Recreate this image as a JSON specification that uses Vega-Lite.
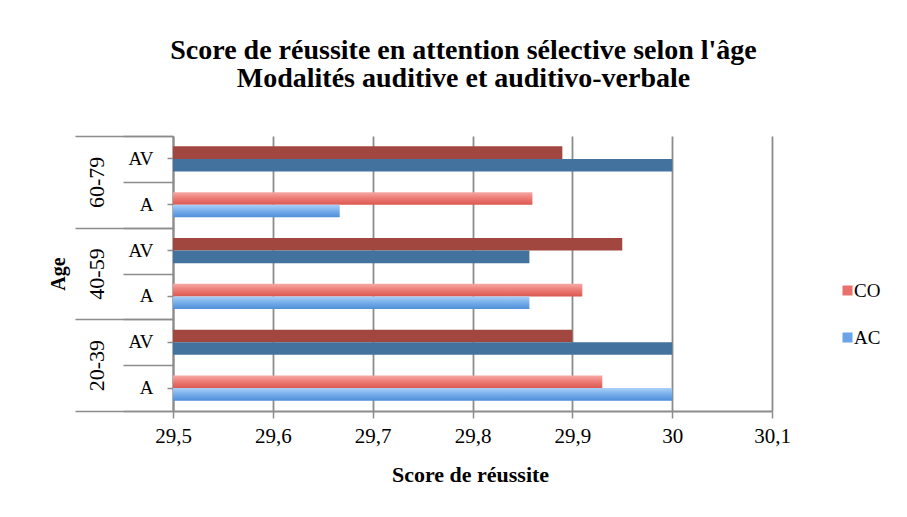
{
  "$schema": "https://vega.github.io/schema/vega-lite/v6.json",
  "width": 599,
  "height": 275,
  "autosize": {"type": "none"},
  "padding": {"left": 173, "top": 136, "right": 135, "bottom": 106},
  "background": "white",
  "title": {
    "text": ["Score de réussite en attention sélective selon l'âge", "Modalités auditive et auditivo-verbale"],
    "font": "Liberation Serif",
    "fontSize": 28,
    "fontWeight": "bold",
    "lineHeight": 28,
    "color": "#000000",
    "anchor": "middle",
    "dx": -9,
    "offset": 42
  },
  "data": {
    "values": [
      {"age": "60-79", "mod": "AV", "key": "60-79|AV", "series": "CO", "value": 29.89},
      {"age": "60-79", "mod": "AV", "key": "60-79|AV", "series": "AC", "value": 30.0},
      {"age": "60-79", "mod": "A", "key": "60-79|A", "series": "CO", "value": 29.86},
      {"age": "60-79", "mod": "A", "key": "60-79|A", "series": "AC", "value": 29.667},
      {"age": "40-59", "mod": "AV", "key": "40-59|AV", "series": "CO", "value": 29.95},
      {"age": "40-59", "mod": "AV", "key": "40-59|AV", "series": "AC", "value": 29.857},
      {"age": "40-59", "mod": "A", "key": "40-59|A", "series": "CO", "value": 29.91},
      {"age": "40-59", "mod": "A", "key": "40-59|A", "series": "AC", "value": 29.857},
      {"age": "20-39", "mod": "AV", "key": "20-39|AV", "series": "CO", "value": 29.9},
      {"age": "20-39", "mod": "AV", "key": "20-39|AV", "series": "AC", "value": 30.0},
      {"age": "20-39", "mod": "A", "key": "20-39|A", "series": "CO", "value": 29.93},
      {"age": "20-39", "mod": "A", "key": "20-39|A", "series": "AC", "value": 30.0}
    ]
  },
  "layer": [
    {
      "mark": {"type": "bar"},
      "encoding": {
        "y": {
          "field": "key", "type": "nominal",
          "sort": ["60-79|AV", "60-79|A", "40-59|AV", "40-59|A", "20-39|AV", "20-39|A"],
          "scale": {"paddingInner": 0, "paddingOuter": 0},
          "axis": {
            "orient": "left", "title": null,
            "labelExpr": "split(datum.value, '|')[1]",
            "labelFont": "Liberation Serif", "labelFontSize": 19, "labelColor": "#000000",
            "labelPadding": 14, "labelAlign": "right", "labelBaseline": "middle",
            "tickSize": 6, "tickColor": "#8c8c8c", "tickWidth": 1.5,
            "domainColor": "#8c8c8c", "domainWidth": 2, "grid": false
          }
        },
        "yOffset": {
          "field": "series", "type": "nominal", "sort": ["CO", "AC"],
          "scale": {"paddingInner": 0, "paddingOuter": 0.82}
        },
        "x": {
          "field": "value", "type": "quantitative", "stack": null,
          "scale": {"domain": [29.5, 30.1], "nice": false, "zero": false},
          "axis": {
            "title": "Score de réussite",
            "values": [29.5, 29.6, 29.7, 29.8, 29.9, 30.0, 30.1],
            "format": ".1~f",
            "labelExpr": "replace(datum.label, '.', ',')",
            "labelFont": "Liberation Serif", "labelFontSize": 21, "labelColor": "#000000",
            "labelPadding": 7, "labelFlush": false,
            "tickSize": 7, "tickColor": "#8c8c8c", "tickWidth": 1.5,
            "domainColor": "#8c8c8c", "domainWidth": 2,
            "grid": true, "gridColor": "#8c8c8c", "gridWidth": 1.8,
            "titleFont": "Liberation Serif", "titleFontSize": 22, "titleFontWeight": "bold",
            "titleColor": "#000000", "titlePadding": 18, "titleX": 297
          }
        },
        "x2": {"datum": 29.5},
        "color": {
          "condition": [
            {"test": "datum.mod === 'AV' && datum.series === 'CO'", "value": "#a1473f"},
            {"test": "datum.mod === 'AV' && datum.series === 'AC'", "value": "#44729f"},
            {"test": "datum.series === 'CO'", "value": {"gradient": "linear", "x1": 0, "y1": 0, "x2": 0, "y2": 1, "stops": [{"offset": 0, "color": "#f7a9a4"}, {"offset": 0.5, "color": "#ec7a74"}, {"offset": 1, "color": "#db5850"}]}},
            {"test": "datum.series === 'AC'", "value": {"gradient": "linear", "x1": 0, "y1": 0, "x2": 0, "y2": 1, "stops": [{"offset": 0, "color": "#abd0f7"}, {"offset": 0.5, "color": "#76adeb"}, {"offset": 1, "color": "#4f8ed9"}]}}
          ],
          "field": "series", "type": "nominal",
          "scale": {"domain": ["CO", "AC"], "range": ["#e9706b", "#6aa3e6"]},
          "legend": {
            "title": null, "orient": "none", "legendX": 665, "legendY": 145,
            "padding": 0, "rowPadding": 27, "symbolType": "square", "symbolSize": 100,
            "symbolStrokeWidth": 0, "labelFont": "Liberation Serif", "labelFontSize": 19,
            "labelColor": "#000000", "labelOffset": -3
          }
        }
      }
    },
    {
      "mark": {"type": "point", "opacity": 0},
      "encoding": {
        "y": {
          "field": "key", "type": "nominal",
          "sort": ["60-79|AV", "60-79|A", "40-59|AV", "40-59|A", "20-39|AV", "20-39|A"],
          "scale": {"paddingInner": 0, "paddingOuter": 0},
          "axis": {
            "orient": "left", "title": null, "labels": false, "domain": false,
            "tickBand": "extent", "tickSize": 50, "tickColor": "#8c8c8c", "tickWidth": 1.5, "grid": false
          }
        },
        "x": {"field": "value", "type": "quantitative"}
      }
    },
    {
      "mark": {"type": "point", "opacity": 0},
      "encoding": {
        "y": {
          "field": "age", "type": "nominal",
          "sort": ["60-79", "40-59", "20-39"],
          "scale": {"paddingInner": 0, "paddingOuter": 0},
          "axis": {
            "orient": "left", "title": "Age", "domain": false,
            "tickBand": "extent", "tickSize": 98, "tickColor": "#8c8c8c", "tickWidth": 1.5, "grid": false,
            "labelAngle": -90, "labelAlign": "center", "labelBaseline": "middle",
            "labelPadding": -21, "labelFont": "Liberation Serif", "labelFontSize": 22, "labelColor": "#000000",
            "titleFont": "Liberation Serif", "titleFontSize": 20, "titleFontWeight": "bold",
            "titleColor": "#000000", "titlePadding": 6
          }
        },
        "x": {"field": "value", "type": "quantitative"}
      }
    }
  ],
  "resolve": {"scale": {"y": "independent"}, "axis": {"y": "independent"}},
  "config": {
    "view": {"stroke": null},
    "font": "Liberation Serif"
  }
}
